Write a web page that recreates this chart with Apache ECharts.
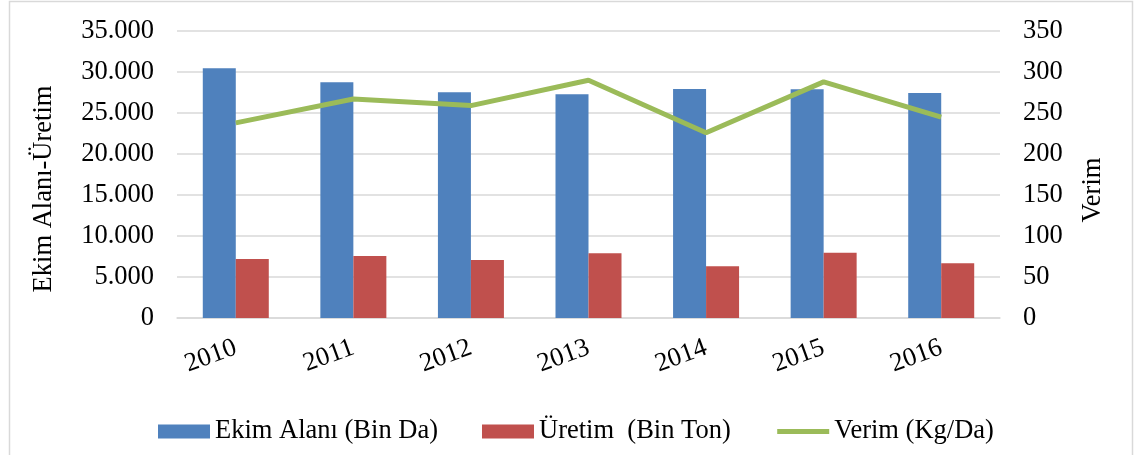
<!DOCTYPE html>
<html>
<head>
<meta charset="utf-8">
<script src="https://cdn.jsdelivr.net/npm/echarts@6/dist/echarts.min.js"></script>
<style>
html,body{margin:0;padding:0;background:#fff;}
#c{width:1134px;height:455px;}
</style>
</head>
<body>
<div id="c"></div>
<script>
const categories = ['2010','2011','2012','2013','2014','2015','2016'];
const ekimAlani = [30450, 28740, 27520, 27280, 27930, 27890, 27440];
const uretim = [7200, 7560, 7070, 7890, 6300, 7970, 6670];
const verim = [238, 267, 259, 290, 226, 288, 245];
const seriesNames = ['Ekim Alanı (Bin Da)', 'Üretim  (Bin Ton)', 'Verim (Kg/Da)'];
const leftAxisTitle = 'Ekim Alanı-Üretim';
const rightAxisTitle = 'Verim';

const FONT = '"Liberation Serif", "Times New Roman", serif';
const FS = 26.5;
function fmtThousands(v){
  const s = String(Math.round(v));
  return s.replace(/\B(?=(\d{3})+(?!\d))/g, '.');
}

const chart = echarts.init(document.getElementById('c'), null, {renderer:'canvas'});
chart.setOption({
  animation:false,
  backgroundColor:'#fff',
  textStyle:{fontFamily:FONT},
  grid:{left:177, right:134, top:31, bottom:137, containLabel:false},
  legend:{
    left:153, top:413,
    itemWidth:52, itemHeight:14, itemGap:44,
    textStyle:{fontFamily:FONT, fontSize:FS, color:'#000'},
    data:[
      {name:seriesNames[0], icon:'rect'},
      {name:seriesNames[1], icon:'rect'},
      {name:seriesNames[2], itemStyle:{opacity:0}, lineStyle:{width:5, color:'#9BBB59'}}
    ]
  },
  xAxis:{
    type:'category', data:categories,
    axisLine:{show:true, lineStyle:{color:'#d9d9d9', width:1.5}},
    axisTick:{show:false},
    axisLabel:{rotate:20, margin:29, fontFamily:FONT, fontSize:FS, color:'#000'}
  },
  yAxis:[
    {type:'value', min:0, max:35000, interval:5000,
     axisLine:{show:false}, axisTick:{show:false},
     splitLine:{lineStyle:{color:'#d9d9d9', width:1.5}},
     axisLabel:{margin:23, fontFamily:FONT, fontSize:FS, color:'#000', formatter:fmtThousands}},
    {type:'value', min:0, max:350, interval:50, position:'right',
     axisLine:{show:false}, axisTick:{show:false}, splitLine:{show:false},
     axisLabel:{margin:23, fontFamily:FONT, fontSize:FS, color:'#000', align:'left'}}
  ],
  graphic:[
    {type:'rect', silent:true, shape:{x:9.5, y:1.5, width:1123, height:470},
     style:{fill:'none', stroke:'#d9d9d9', lineWidth:1.5}},
    {type:'text', x:44, y:189, rotation:Math.PI/2,
     style:{text:leftAxisTitle, font:FS+'px '+FONT, fill:'#000', textAlign:'center', textVerticalAlign:'middle'}},
    {type:'text', x:1093, y:190, rotation:Math.PI/2,
     style:{text:rightAxisTitle, font:FS+'px '+FONT, fill:'#000', textAlign:'center', textVerticalAlign:'middle'}}
  ],
  series:[
    {name:seriesNames[0], type:'bar', data:ekimAlani, barWidth:33, barGap:'0%',
     itemStyle:{color:'#4F81BD'}},
    {name:seriesNames[1], type:'bar', data:uretim, barWidth:33, barGap:'0%',
     itemStyle:{color:'#C0504D'}},
    {name:seriesNames[2], type:'line', yAxisIndex:1, data:verim, symbol:'none',
     lineStyle:{color:'#9BBB59', width:5}, itemStyle:{color:'#9BBB59'}}
  ]
});
</script>
</body>
</html>
